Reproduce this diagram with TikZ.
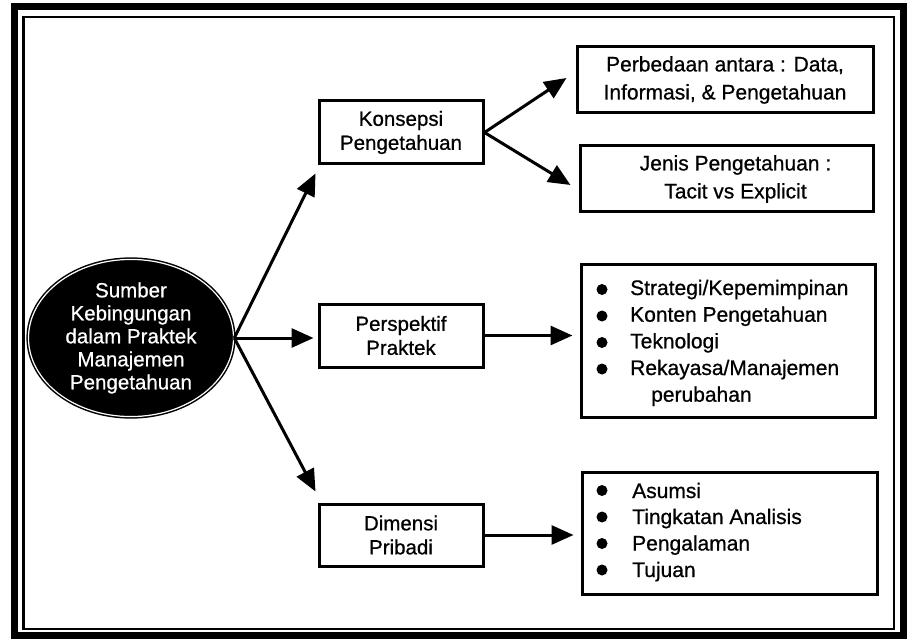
\documentclass[tikz,border=0pt]{standalone}
\usepackage{fontspec}
\setmainfont{Liberation Sans}[FakeBold=0.7]
\usetikzlibrary{arrows.meta,shapes.geometric,calc}
\begin{document}
\begin{tikzpicture}[x=1pt,y=-1pt,
  boxnode/.style={draw=black, line width=3pt, rectangle, inner sep=0pt, align=center},
  midbox/.style={boxnode, minimum width=164pt, minimum height=63pt, font=\fontsize{20.5}{24}\selectfont},
  rightbox/.style={boxnode, font=\fontsize{21}{28}\selectfont},
  arr/.style={line width=3pt, -{Triangle[length=22pt,width=19pt]}},
  bul/.style={circle, fill=black, minimum size=11pt, inner sep=0pt},
  itemtxt/.style={anchor=base west, inner sep=0pt, font=\fontsize{21}{26}\selectfont}
]
\useasboundingbox (0,0) rectangle (908,639);
\fill[white] (0,0) rectangle (908,639);
% frame
\draw[line width=7pt] (14,7) rectangle (903,635.5);
\draw[line width=2.5pt] (23.5,17) rectangle (894,629);

% central ellipse
\node[ellipse, fill=black, draw=black, line width=1.5pt, double=white, double distance=1.2pt,
      minimum width=205pt, minimum height=155pt, inner sep=0pt, text=white, align=center,
      font=\fontsize{20.5}{23}\selectfont] (ell) at (131,338)
      {Sumber\\Kebingungan\\dalam Praktek\\Manajemen\\Pengetahuan};

% middle boxes
\node[midbox] (kon) at (401,132.5) {Konsepsi\\Pengetahuan};
\node[midbox] (pers) at (401,335.5) {Perspektif\\Praktek};
\node[midbox, minimum height=62pt] (dim) at (401,535) {Dimensi\\Pribadi};

% right boxes
\node[rightbox, minimum width=296pt, minimum height=66pt] (perb) at (725,80)
  {Perbedaan antara : Data,\\Informasi, \& Pengetahuan};
\node[rightbox, minimum width=293pt, minimum height=66pt] (jenis) at (726.5,179)
  {\hspace*{18pt}Jenis Pengetahuan :\\\hspace*{18pt}Tacit vs Explicit};
\node[boxnode, minimum width=294pt, minimum height=152pt] (lst1) at (728,341) {};
\node[boxnode, minimum width=295pt, minimum height=122pt] (lst2) at (729.5,533) {};

% list 1
\node[bul] (b11) at (602,289.5) {};
\node[bul] (b12) at (602,316) {};
\node[bul] (b13) at (602,342.5) {};
\node[bul] (b14) at (602,369) {};
\node[itemtxt] (t11) at (630,295) {Strategi/Kepemimpinan};
\node[itemtxt] (t12) at (630,321.7) {Konten Pengetahuan};
\node[itemtxt] (t13) at (630,348.3) {Teknologi};
\node[itemtxt] (t14) at (630,375) {Rekayasa/Manajemen};
\node[itemtxt] (t15) at (651,401.7) {perubahan};

% list 2
\node[bul] (b21) at (602,490.5) {};
\node[bul] (b22) at (602,517) {};
\node[bul] (b23) at (602,543.5) {};
\node[bul] (b24) at (602,570) {};
\node[itemtxt] (t21) at (632,498) {Asumsi};
\node[itemtxt] (t22) at (632,524) {Tingkatan Analisis};
\node[itemtxt] (t23) at (632,550.5) {Pengalaman};
\node[itemtxt] (t24) at (632,577) {Tujuan};

% arrows
\draw[arr] (ell.east) -- ([xshift=-2pt,yshift=-8pt]kon.south west);
\draw[arr] (ell.east) -- ([xshift=-4pt]ell.east -| pers.west);
\draw[arr] (ell.east) -- ([xshift=-2pt,yshift=11pt]dim.north west);

\draw[arr] (kon.east) -- ([xshift=-9pt,yshift=2pt]perb.west);
\draw[arr] (kon.east) -- ([xshift=-8pt,yshift=-6pt]jenis.west);
\draw[arr] (pers.east) -- ([xshift=-7pt]pers.east -| lst1.west);
\draw[arr] (dim.east) -- ([xshift=-7pt]dim.east -| lst2.west);
\end{tikzpicture}
\end{document}
